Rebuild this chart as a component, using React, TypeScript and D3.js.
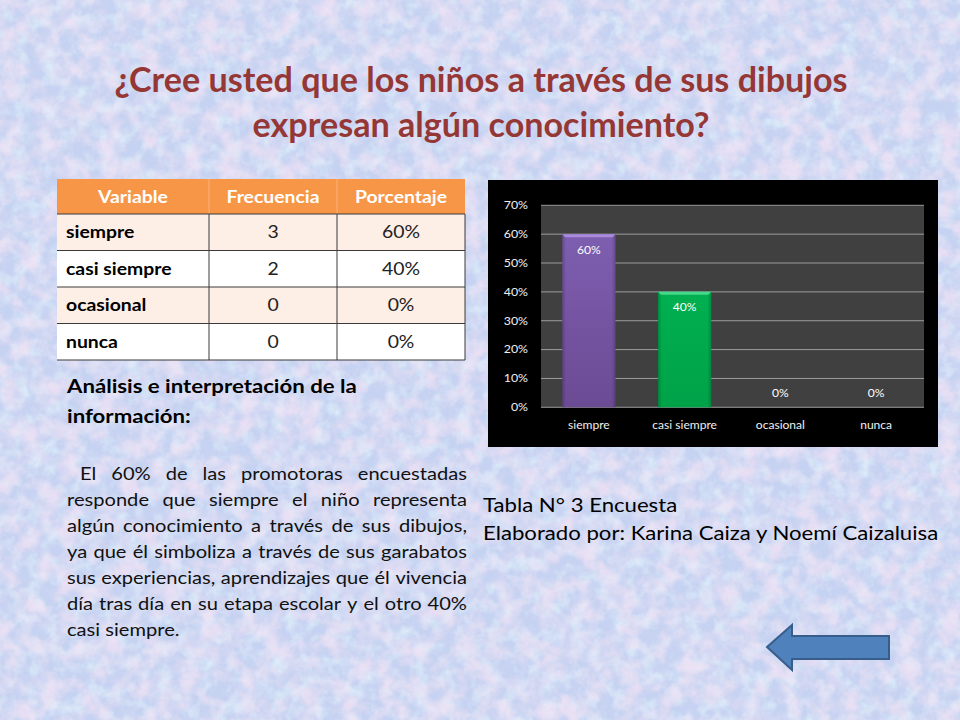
import React, { useMemo } from "react";
import * as d3 from "d3";

const W = 960;
const H = 720;
const FONT = "Lato, 'Open Sans', 'DejaVu Sans', sans-serif";

const titleLines = [
  "¿Cree usted que los niños a través de sus dibujos",
  "expresan algún conocimiento?",
];
const tableHeader = ["Variable", "Frecuencia", "Porcentaje"];
const categories = ["siempre", "casi siempre", "ocasional", "nunca"];
const frequencies = [3, 2, 0, 0];
const percentages = [60, 40, 0, 0];
const yTicks = [0, 10, 20, 30, 40, 50, 60, 70];
const barColors = ["#7e5eb0", "#00b050", "#c0504d", "#f79646"];
const barTopColors = ["#a98cdb", "#45d98a", "#e07a77", "#ffb27a"];
const barBottomColors = ["#6b4b94", "#00a248", "#a04040", "#e08030"];
const analysisHeading = ["Análisis e interpretación de la", "información:"];
const paragraphLines = [
  "El 60% de las promotoras encuestadas",
  "responde que siempre el niño representa",
  "algún conocimiento a través de sus dibujos,",
  "ya que él simboliza a través de sus garabatos",
  "sus experiencias, aprendizajes que él vivencia",
  "día tras día en su etapa escolar y el otro 40%",
  "casi siempre.",
];
const captionLines = [
  "Tabla N° 3 Encuesta",
  "Elaborado por: Karina Caiza y Noemí Caizaluisa",
];

function measurer(font: string) {
  const c = document.createElement("canvas");
  const ctx = c.getContext("2d")!;
  ctx.font = font;
  return (s: string) => ctx.measureText(s).width;
}

type TProps = React.SVGProps<SVGTextElement> & { tx: number; ty: number; sx?: number; children?: React.ReactNode };
function T({ tx, ty, sx = 1, children, ...rest }: TProps) {
  return (
    <text transform={`translate(${tx},${ty}) scale(${sx},1)`} x={0} y={0} {...rest}>
      {children}
    </text>
  );
}

function Background() {
  return (
    <g>
      <defs>
        <filter id="pinkNoise" x="0" y="0" width="100%" height="100%">
          <feTurbulence type="fractalNoise" baseFrequency="0.05" numOctaves="4" seed="7" result="n" />
          <feColorMatrix
            in="n"
            type="matrix"
            values="0 0 0 0 0.90  0 0 0 0 0.77  0 0 0 0 0.91  2.6 0 0 0 -1.0"
          />
        </filter>
        <filter id="lightNoise" x="0" y="0" width="100%" height="100%">
          <feTurbulence type="fractalNoise" baseFrequency="0.07" numOctaves="3" seed="19" result="n" />
          <feColorMatrix
            in="n"
            type="matrix"
            values="0 0 0 0 0.78  0 0 0 0 0.91  0 0 0 0 0.98  0 2.4 0 0 -1.0"
          />
        </filter>
        <filter id="darkNoise" x="0" y="0" width="100%" height="100%">
          <feTurbulence type="fractalNoise" baseFrequency="0.12" numOctaves="2" seed="31" result="n" />
          <feColorMatrix
            in="n"
            type="matrix"
            values="0 0 0 0 0.66  0 0 0 0 0.74  0 0 0 0 0.93  0 0 2.2 0 -1.1"
          />
        </filter>
      </defs>
      <rect x={0} y={0} width={W} height={H} fill="#c6d2f1" />
      <rect x={0} y={0} width={W} height={H} filter="url(#lightNoise)" opacity={0.7} />
      <rect x={0} y={0} width={W} height={H} filter="url(#pinkNoise)" opacity={0.75} />
      <rect x={0} y={0} width={W} height={H} filter="url(#darkNoise)" opacity={0.3} />
    </g>
  );
}

function Title() {
  return (
    <g fontFamily={FONT} fontWeight="bold" fontSize={35} fill="#953735" textAnchor="middle">
      {titleLines.map((t, i) => (
        <T key={i} tx={481} ty={92 + i * 44.5} sx={0.975}>
          {t}
        </T>
      ))}
    </g>
  );
}

function Table() {
  const x0 = 57;
  const colX = [57, 209, 337, 465];
  const headerTop = 179;
  const headerH = 35;
  const rowH = 36.5;
  const sx = 1.14;
  const rows = categories.map((c, i) => ({
    c,
    f: frequencies[i],
    p: `${percentages[i]}%`,
  }));
  const bottom = headerTop + headerH + rows.length * rowH;
  return (
    <g fontFamily={FONT} fontSize={17}>
      <rect x={x0} y={headerTop} width={colX[3] - x0} height={headerH} fill="#f79646" />
      {colX.slice(1, 3).map((cx, i) => (
        <line key={i} x1={cx} x2={cx} y1={headerTop} y2={headerTop + headerH} stroke="#fbb37a" strokeWidth={1} />
      ))}
      {tableHeader.map((h, i) => (
        <T
          key={h}
          tx={(colX[i] + colX[i + 1]) / 2}
          ty={headerTop + headerH / 2 + 6}
          sx={sx}
          textAnchor="middle"
          fill="#ffffff"
          fontWeight="bold"
        >
          {h}
        </T>
      ))}
      {rows.map((r, i) => {
        const top = headerTop + headerH + i * rowH;
        const cy = top + rowH / 2 + 6;
        return (
          <g key={r.c}>
            <rect x={x0} y={top} width={colX[3] - x0} height={rowH} fill={i % 2 === 0 ? "#fdeee6" : "#ffffff"} />
            <T tx={x0 + 9} ty={cy} sx={sx} fontWeight="bold" fill="#000">
              {r.c}
            </T>
            <T tx={(colX[1] + colX[2]) / 2} ty={cy} sx={sx} textAnchor="middle" fill="#222">
              {r.f}
            </T>
            <T tx={(colX[2] + colX[3]) / 2} ty={cy} sx={sx} textAnchor="middle" fill="#222">
              {r.p}
            </T>
          </g>
        );
      })}
      {rows.map((_, i) => {
        const y = headerTop + headerH + i * rowH;
        return <line key={"h" + i} x1={x0} x2={colX[3]} y1={y} y2={y} stroke="#3a3a3a" strokeWidth={1} />;
      })}
      <line x1={x0} x2={colX[3]} y1={bottom} y2={bottom} stroke="#3a3a3a" strokeWidth={1.2} />
      {colX.slice(1).map((cx, i) => (
        <line
          key={"v" + i}
          x1={cx}
          x2={cx}
          y1={headerTop + headerH}
          y2={bottom}
          stroke="#3a3a3a"
          strokeWidth={1}
        />
      ))}
    </g>
  );
}

function Chart() {
  const box = { x: 488, y: 180, w: 450, h: 267 };
  const plot = { l: 541, r: 924, t: 205.3, b: 407.3 };
  const x = d3
    .scaleBand<string>()
    .domain(categories)
    .range([plot.l, plot.r])
    .paddingInner(0.8 / 1.8)
    .paddingOuter(0.4 / 1.8);
  const y = d3.scaleLinear().domain([0, 70]).range([plot.b, plot.t]);
  const bw = x.bandwidth();
  const fs = 10.5;
  return (
    <g fontFamily={FONT}>
      <defs>
        {categories.map((c, i) => (
          <linearGradient key={c} id={`barg${i}`} x1="0" y1="0" x2="0" y2="1">
            <stop offset="0" stopColor={barColors[i]} />
            <stop offset="1" stopColor={barBottomColors[i]} />
          </linearGradient>
        ))}
        <linearGradient id="sideShade" x1="0" y1="0" x2="1" y2="0">
          <stop offset="0" stopColor="#000" stopOpacity={0.2} />
          <stop offset="0.07" stopColor="#000" stopOpacity={0} />
          <stop offset="0.93" stopColor="#000" stopOpacity={0} />
          <stop offset="1" stopColor="#000" stopOpacity={0.2} />
        </linearGradient>
      </defs>
      <rect x={box.x} y={box.y} width={box.w} height={box.h} fill="#000000" />
      <rect x={plot.l} y={plot.t} width={plot.r - plot.l} height={plot.b - plot.t} fill="#404040" />
      {yTicks.map((t) => (
        <line key={t} x1={plot.l} x2={plot.r} y1={y(t)} y2={y(t)} stroke="#a6a6a6" strokeWidth={0.9} />
      ))}
      {yTicks.map((t) => (
        <T key={"l" + t} tx={528} ty={y(t) + 3.8} sx={1.18} textAnchor="end" fontSize={fs} fill="#f0f0f0">
          {t}%
        </T>
      ))}
      {categories.map((c, i) => {
        const v = percentages[i];
        const bx = x(c)!;
        const top = y(v);
        const hgt = plot.b - top;
        const bevel = 3;
        return (
          <g key={c}>
            {hgt > 0 && (
              <>
                <rect x={bx} y={top} width={bw} height={hgt} fill={`url(#barg${i})`} />
                <rect x={bx} y={top} width={bw} height={hgt} fill="url(#sideShade)" />
                <path
                  d={`M${bx},${top} L${bx + bw},${top} L${bx + bw - bevel},${top + bevel} L${bx + bevel},${top + bevel} Z`}
                  fill={barTopColors[i]}
                />
              </>
            )}
            <T
              tx={bx + bw / 2}
              ty={v > 0 ? top + 19.5 : plot.b - 10.5}
              sx={1.15}
              textAnchor="middle"
              fontSize={fs}
              fill="#ffffff"
            >
              {v}%
            </T>
            <T tx={bx + bw / 2} ty={428.5} sx={1.15} textAnchor="middle" fontSize={fs} fill="#f0f0f0">
              {c}
            </T>
          </g>
        );
      })}
    </g>
  );
}

function Analysis() {
  const size = 18;
  const font = `${size}px Lato`;
  const left = 67;
  const right = 467;
  const indent = 13;
  const layout = useMemo(() => {
    const m = measurer(font);
    const space = m(" ");
    const naturals = paragraphLines.slice(0, -1).map((l, li) => m(l) + (li === 0 ? indent : 0));
    const sx = Math.min(1.15, ((right - left) / Math.max(...naturals)) * 0.995);
    const avail = (right - left) / sx;
    const lines = paragraphLines.map((line, li) => {
      const words = line.split(" ");
      const widths = words.map(m);
      const start = li === 0 ? indent / sx : 0;
      const last = li === paragraphLines.length - 1;
      const total = widths.reduce((a, b) => a + b, 0);
      const gap = last || words.length < 2 ? space : (avail - start - total) / (words.length - 1);
      let cx = start;
      return words.map((w, wi) => {
        const px = cx;
        cx += widths[wi] + gap;
        return { w, x: px };
      });
    });
    return { sx, lines };
  }, [font]);
  return (
    <g fontFamily={FONT} fill="#000">
      {analysisHeading.map((t, i) => (
        <T key={i} tx={67} ty={393 + i * 30} sx={1.2} fontSize={18.5} fontWeight="bold">
          {t}
        </T>
      ))}
      <g fontSize={size} fill="#111" transform={`translate(${left},0) scale(${layout.sx},1)`}>
        {layout.lines.map((ws, li) =>
          ws.map((w, wi) => (
            <text key={li + "-" + wi} x={w.x} y={480 + li * 26}>
              {w.w}
            </text>
          ))
        )}
      </g>
    </g>
  );
}

function Caption() {
  return (
    <g fontFamily={FONT} fontSize={19} fill="#000">
      {captionLines.map((t, i) => (
        <T key={i} tx={483} ty={512 + i * 28} sx={1.167}>
          {t}
        </T>
      ))}
    </g>
  );
}

function Arrow() {
  return (
    <path
      d="M767,647 L792,625 L792,636 L889,636 L889,659 L792,659 L792,670 Z"
      fill="#4f81bd"
      stroke="#385d8a"
      strokeWidth={2}
      strokeLinejoin="miter"
    />
  );
}

export default function App() {
  return (
    <svg
      width={W}
      height={H}
      viewBox={`0 0 ${W} ${H}`}
      style={{ position: "absolute", left: 0, top: 0, display: "block" }}
    >
      <Background />
      <Title />
      <Table />
      <Chart />
      <Analysis />
      <Caption />
      <Arrow />
    </svg>
  );
}
